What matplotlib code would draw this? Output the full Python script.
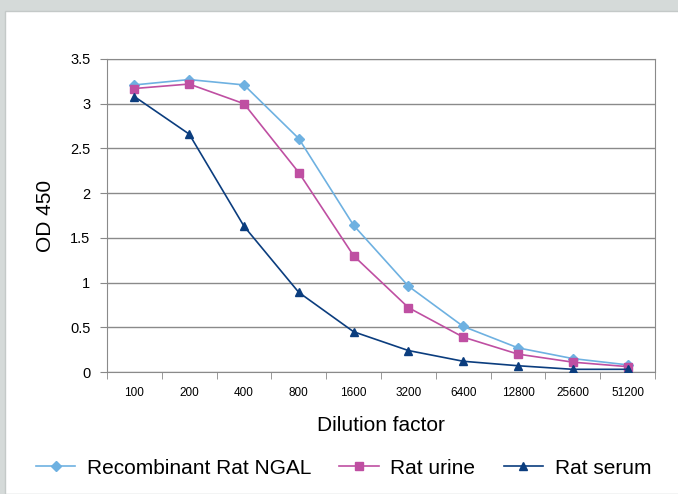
import matplotlib
matplotlib.use('Agg')
import matplotlib.pyplot as plt
from matplotlib.patches import Rectangle
import numpy as np

plt.rcParams['font.family'] = ['Liberation Sans', 'DejaVu Sans']

# dilution factors and OD 450 readings
dilutions = ['100', '200', '400', '800', '1600', '3200', '6400', '12800', '25600', '51200']
ngal = [3.21, 3.27, 3.21, 2.61, 1.64, 0.96, 0.51, 0.27, 0.15, 0.08]
urine = [3.17, 3.22, 3.00, 2.23, 1.30, 0.72, 0.39, 0.20, 0.11, 0.06]
serum = [3.08, 2.66, 1.63, 0.89, 0.45, 0.24, 0.12, 0.07, 0.03, 0.03]

fig = plt.figure(figsize=(6.78, 4.94), dpi=100)
fig.patch.set_facecolor('#d5dad9')
# white inner panel
fig.patches.append(Rectangle((5 / 678, 0), 1, 1 - 11 / 494, transform=fig.transFigure,
                             facecolor='white', edgecolor='#c4c9c8', linewidth=1, zorder=-5))

ax = fig.add_axes([107 / 678, 1 - 372 / 494, 548 / 678, 313 / 494])
ax.set_facecolor('white')

x = np.arange(len(dilutions))
ax.plot(x, ngal, color='#6eb1e1', marker='D', markersize=5, linewidth=1.2, label='Recombinant Rat NGAL', zorder=3)
ax.plot(x, urine, color='#bf4fa2', marker='s', markersize=6, linewidth=1.2, label='Rat urine', zorder=3)
ax.plot(x, serum, color='#0b3d7e', marker='^', markersize=6, linewidth=1.2, label='Rat serum', zorder=3)

ax.set_xlim(-0.5, len(dilutions) - 0.5)
ax.set_ylim(0, 3.5)
ax.set_yticks(np.arange(0, 3.51, 0.5))
ax.set_yticklabels(['0', '0.5', '1', '1.5', '2', '2.5', '3', '3.5'], fontsize=10.5)
ax.set_xticks(x)
ax.set_xticklabels(dilutions, fontsize=8.5)
ax.set_xticks(np.arange(-0.5, len(dilutions), 1), minor=True)
ax.tick_params(axis='x', which='major', length=0, pad=11)
ax.tick_params(axis='x', which='minor', length=5, color='#888888', direction='out')
ax.tick_params(axis='y', length=5, color='#888888', direction='out', pad=7)
ax.yaxis.grid(True, color='#8a8a8a', linewidth=1)
ax.set_axisbelow(True)
for s in ax.spines.values():
    s.set_color('#8a8a8a')

ax.set_ylabel('OD 450', fontsize=15, labelpad=11)
ax.set_xlabel('Dilution factor', fontsize=15, labelpad=12)

fig.legend(loc='center', bbox_to_anchor=(0.5 + 4.5 / 678, 1 - 468 / 494), ncol=3, frameon=False,
           fontsize=15, handlelength=1.9, columnspacing=1.35, handletextpad=0.55)

fig.savefig('out.png', dpi=100, facecolor=fig.get_facecolor())
